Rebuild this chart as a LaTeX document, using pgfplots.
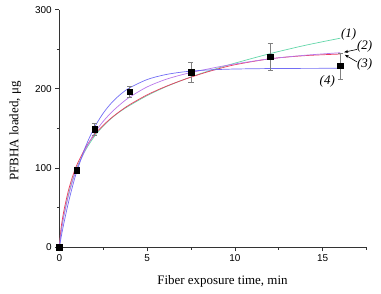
\documentclass[border=0pt]{standalone}
\usepackage{pgfplots}
\pgfplotsset{compat=1.18}
\usepackage{fontspec}
\setmainfont{Liberation Serif}
\newfontfamily\tickfont{Liberation Sans}
\usetikzlibrary{arrows.meta}
\definecolor{cgreen}{RGB}{100,215,170}
\definecolor{cred}{RGB}{235,60,95}
\definecolor{cpurple}{RGB}{185,120,235}
\definecolor{cblue}{RGB}{115,110,245}
\begin{document}
\begin{tikzpicture}
\useasboundingbox (-59.3bp,-46.7bp) rectangle (321.7bp,247.3bp);
\begin{axis}[at={(0,0)}, anchor=south west, scale only axis,
  width=307.3bp, height=237.6bp,
  xmin=0, xmax=17.5, ymin=0, ymax=300,
  axis x line*=bottom, axis y line*=left,
  axis line style={line width=0.8bp, black!80},
  xtick={0,5,10,15}, ytick={0,100,200,300},
  minor xtick={2.5,7.5,12.5,17.5}, minor ytick={50,150,250},
  tick align=outside, major tick length=4bp, minor tick length=2.5bp,
  every tick/.style={line width=0.8bp, black!80},
  tick label style={font=\tickfont\fontsize{10}{12}\selectfont},
  /pgf/number format/assume math mode=true,
  clip=false,
  xlabel={Fiber exposure time, min},
  label style={font=\fontsize{13}{15}\selectfont},
  xlabel style={at={(rel axis cs:0.531,0)}, anchor=base, yshift=-36.7bp},
]
\addplot[cgreen, line width=0.7bp, smooth] coordinates {
 (0,0) (0.1,20) (0.25,40) (0.5,65) (0.75,85) (1,101) (1.5,123) (2,140) (2.5,153)
 (3,163.5) (3.5,172) (4,179) (5,191.5) (6,202) (7,211) (8,219) (9,226) (10,232.5)
 (12,244.5) (14,255) (16,264)};
\addplot[cred, line width=0.7bp, smooth] coordinates {
 (0,0) (0.1,24) (0.25,45) (0.5,70) (0.75,89) (1,104) (1.5,126) (2,142) (2.5,154)
 (3,164) (3.5,172.5) (4,180) (5,192.5) (6,202.5) (7,211) (8,218.5) (9,225) (10,230.5)
 (12,238) (14,242) (16,244)};
\addplot[cpurple, line width=0.7bp, smooth] coordinates {
 (0,0) (0.1,18) (0.25,38) (0.5,63) (0.75,83) (1,99) (1.5,124) (2,144) (2.5,159)
 (3,171) (3.5,181) (4,189.5) (5,202.5) (6,211.5) (7,218) (8,223) (9,227.5) (10,231.5)
 (12,238) (14,242.5) (16,245.7)};
\addplot[cblue, line width=0.7bp, smooth] coordinates {
 (0,0) (0.1,12.2) (0.25,29.2) (0.5,54.6) (0.75,76.7) (1,96.0) (1.5,127.4) (2,151.2)
 (2.5,169.3) (3,183.0) (3.5,193.4) (4,201.3) (5,211.8) (6,217.8) (7,221.3) (8,223.3)
 (9,224.4) (10,225.1) (12,225.7) (14,225.9) (16,226.0)};
\addplot[only marks, mark=square*, mark size=2.7bp, black,
  error bars/.cd, y dir=both, y explicit,
  error bar style={gray, line width=0.6bp},
  error mark options={rotate=90, gray, mark size=2.5bp, line width=0.6bp}]
 coordinates {
 (0,0) +- (0,0)
 (1,97.6) +- (0,2)
 (2,149) +- (0,8)
 (4,196.5) +- (0,7)
 (7.5,221) +- (0,13)
 (12,240.5) +- (0,16.5)
 (16,229) +- (0,16.5)};
\node[font=\itshape\fontsize{13}{15}\selectfont] at (axis cs:16.48,268.9) {(1)};
\node[font=\itshape\fontsize{13}{15}\selectfont] at (axis cs:17.39,253.4) {(2)};
\node[font=\itshape\fontsize{13}{15}\selectfont] at (axis cs:17.39,230.4) {(3)};
\node[font=\itshape\fontsize{13}{15}\selectfont] at (axis cs:15.26,210.0) {(4)};
\draw[-{Stealth[length=4bp,width=3bp]}, line width=0.6bp] (axis cs:16.96,249.9) -- (axis cs:16.22,246.3);
\draw[-{Stealth[length=4bp,width=3bp]}, line width=0.6bp] (axis cs:16.96,234) -- (axis cs:16.26,243.0);
\node[rotate=90, anchor=base, font=\fontsize{13}{15}\selectfont] at ([xshift=-41bp]rel axis cs:0,0.489) {PFBHA loaded, μg};
\end{axis}
\end{tikzpicture}
\end{document}
